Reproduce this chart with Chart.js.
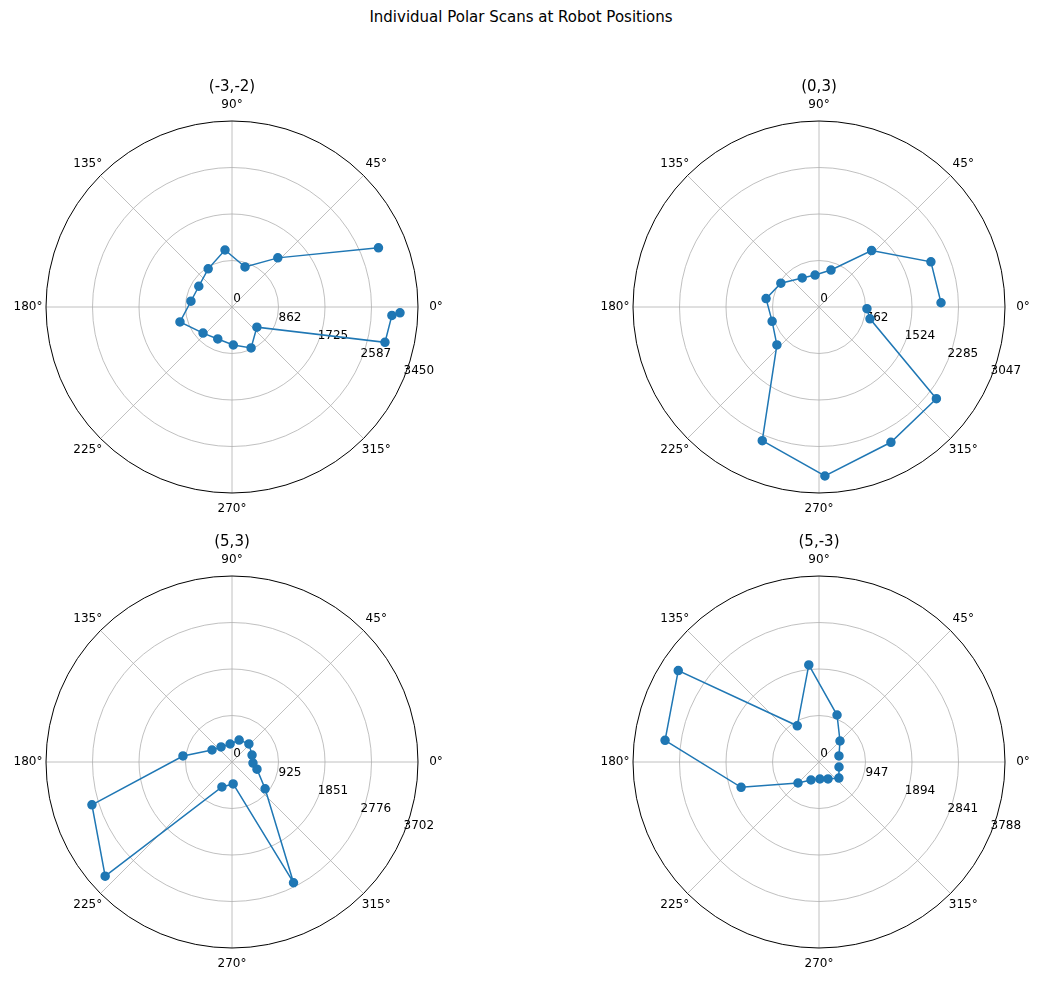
<!DOCTYPE html>
<html><head><meta charset="utf-8">
<script src="https://cdn.jsdelivr.net/npm/chart.js@4"></script>
<style>
body{margin:0;width:1042px;height:985px;background:#fff;position:relative;overflow:hidden;font-family:"DejaVu Sans",sans-serif}
#t{position:absolute;top:8px;left:0;width:1042px;text-align:center;font-size:15px;color:#000}
.c{position:absolute;width:480px;height:470px;pointer-events:none}
</style></head><body>
<div id="t">Individual Polar Scans at Robot Positions</div>
<script>
const titles = ["(-3,-2)", "(0,3)", "(5,3)", "(5,-3)"];
const rMax = [3450, 3047, 3702, 3788];
const tickLabels1 = ["0", "862", "1725", "2587", "3450"];
const tickLabels2 = ["0", "762", "1524", "2285", "3047"];
const tickLabels3 = ["0", "925", "1851", "2776", "3702"];
const tickLabels4 = ["0", "947", "1894", "2841", "3788"];
const angles1 = [358, 357, 347, 321, 295, 272, 246, 222, 196, 172, 148, 122, 97, 72, 47, 22];
const radii1  = [3118, 2970, 2912, 594, 838, 705, 649, 723, 1004, 769, 726, 834, 1065, 781, 1246, 2930];
const angles2 = [2, 22, 47, 72, 97, 120, 148, 171, 197, 222, 247, 272, 298, 322, 347, 358];
const radii2  = [2000, 1977, 1263, 637, 527, 550, 737, 878, 803, 928, 2379, 2770, 2510, 2440, 857, 786];
const angles3 = [19, 47, 72, 96, 126, 149, 173, 197, 222, 248, 273, 297, 321, 344, 357];
const radii3  = [422, 493, 459, 360, 370, 464, 983, 2915, 3397, 536, 438, 2697, 848, 517, 418];
const angles4 = [17, 45, 69, 96, 121, 147, 172, 198, 225, 246, 273, 298, 321, 346];
const radii4  = [425, 605, 1025, 1988, 860, 3418, 3166, 1668, 605, 401, 347, 391, 521, 420];
const angleLabels = ["0°","45°","90°","135°","180°","225°","270°","315°"];
const allA=[angles1,angles2,angles3,angles4], allR=[radii1,radii2,radii3,radii4];
const allT=[tickLabels1,tickLabels2,tickLabels3,tickLabels4];
const centers=[[232,307],[819,307],[232,762],[819,762]];

const polarPlugin = {
  id:'polar',
  beforeDatasetsDraw(chart){
    const o=chart.options.plugins.polar, ctx=chart.ctx, xs=chart.scales.x, ys=chart.scales.y;
    const cx=xs.getPixelForValue(0), cy=ys.getPixelForValue(0);
    const R=xs.getPixelForValue(o.max)-cx;
    ctx.save();
    ctx.strokeStyle='#b0b0b0'; ctx.lineWidth=0.8;
    for(let k=1;k<4;k++){ctx.beginPath();ctx.arc(cx,cy,R*k/4,0,2*Math.PI);ctx.stroke();}
    for(let a=0;a<360;a+=45){const t=a*Math.PI/180;ctx.beginPath();ctx.moveTo(cx,cy);ctx.lineTo(cx+R*Math.cos(t),cy-R*Math.sin(t));ctx.stroke();}
    ctx.strokeStyle='#000'; ctx.lineWidth=1;
    ctx.beginPath();ctx.arc(cx,cy,R,0,2*Math.PI);ctx.stroke();
    ctx.fillStyle='#000'; ctx.font='12px "DejaVu Sans"'; ctx.textAlign='center'; ctx.textBaseline='middle';
    angleLabels.forEach((l,i)=>{const t=i*45*Math.PI/180;ctx.fillText(l,cx+(R+18)*Math.cos(t),cy-(R+16)*Math.sin(t));});
    const t=-22.5*Math.PI/180;
    for(let k=0;k<=4;k++){
      const v=o.max*k/4, rp=xs.getPixelForValue(v)-cx;
      const px=cx+rp*Math.cos(t)+(k===0?5:15), py=cy-rp*Math.sin(t)-(k===0?8:7);
      ctx.fillText(o.ticks[k],px,py);
    }
    ctx.font='15px "DejaVu Sans"'; ctx.textBaseline='alphabetic';
    ctx.fillText(o.title,cx,cy-R-30);
    ctx.restore();
  }
};

for(let i=0;i<4;i++){
  const d=document.createElement('div'); d.className='c';
  d.style.left=(centers[i][0]-240)+'px'; d.style.top=(centers[i][1]-250)+'px';
  const cv=document.createElement('canvas'); d.appendChild(cv); document.body.appendChild(d);
  const pts=allA[i].map((a,j)=>({x:allR[i][j]*Math.cos(a*Math.PI/180),y:allR[i][j]*Math.sin(a*Math.PI/180)}));
  new Chart(cv,{type:'scatter',
    data:{datasets:[{data:pts,showLine:true,borderColor:'#1f77b4',backgroundColor:'#1f77b4',borderWidth:1.5,pointRadius:4,pointHoverRadius:4}]},
    options:{responsive:true,maintainAspectRatio:false,animation:false,clip:false,
      layout:{padding:{left:54,right:54,top:64,bottom:34}},
      scales:{x:{type:'linear',min:-rMax[i],max:rMax[i],display:false},y:{type:'linear',min:-rMax[i],max:rMax[i],display:false}},
      plugins:{legend:{display:false},tooltip:{enabled:false},polar:{max:rMax[i],title:titles[i],ticks:allT[i]}}},
    plugins:[polarPlugin]});
}
</script></body></html>
